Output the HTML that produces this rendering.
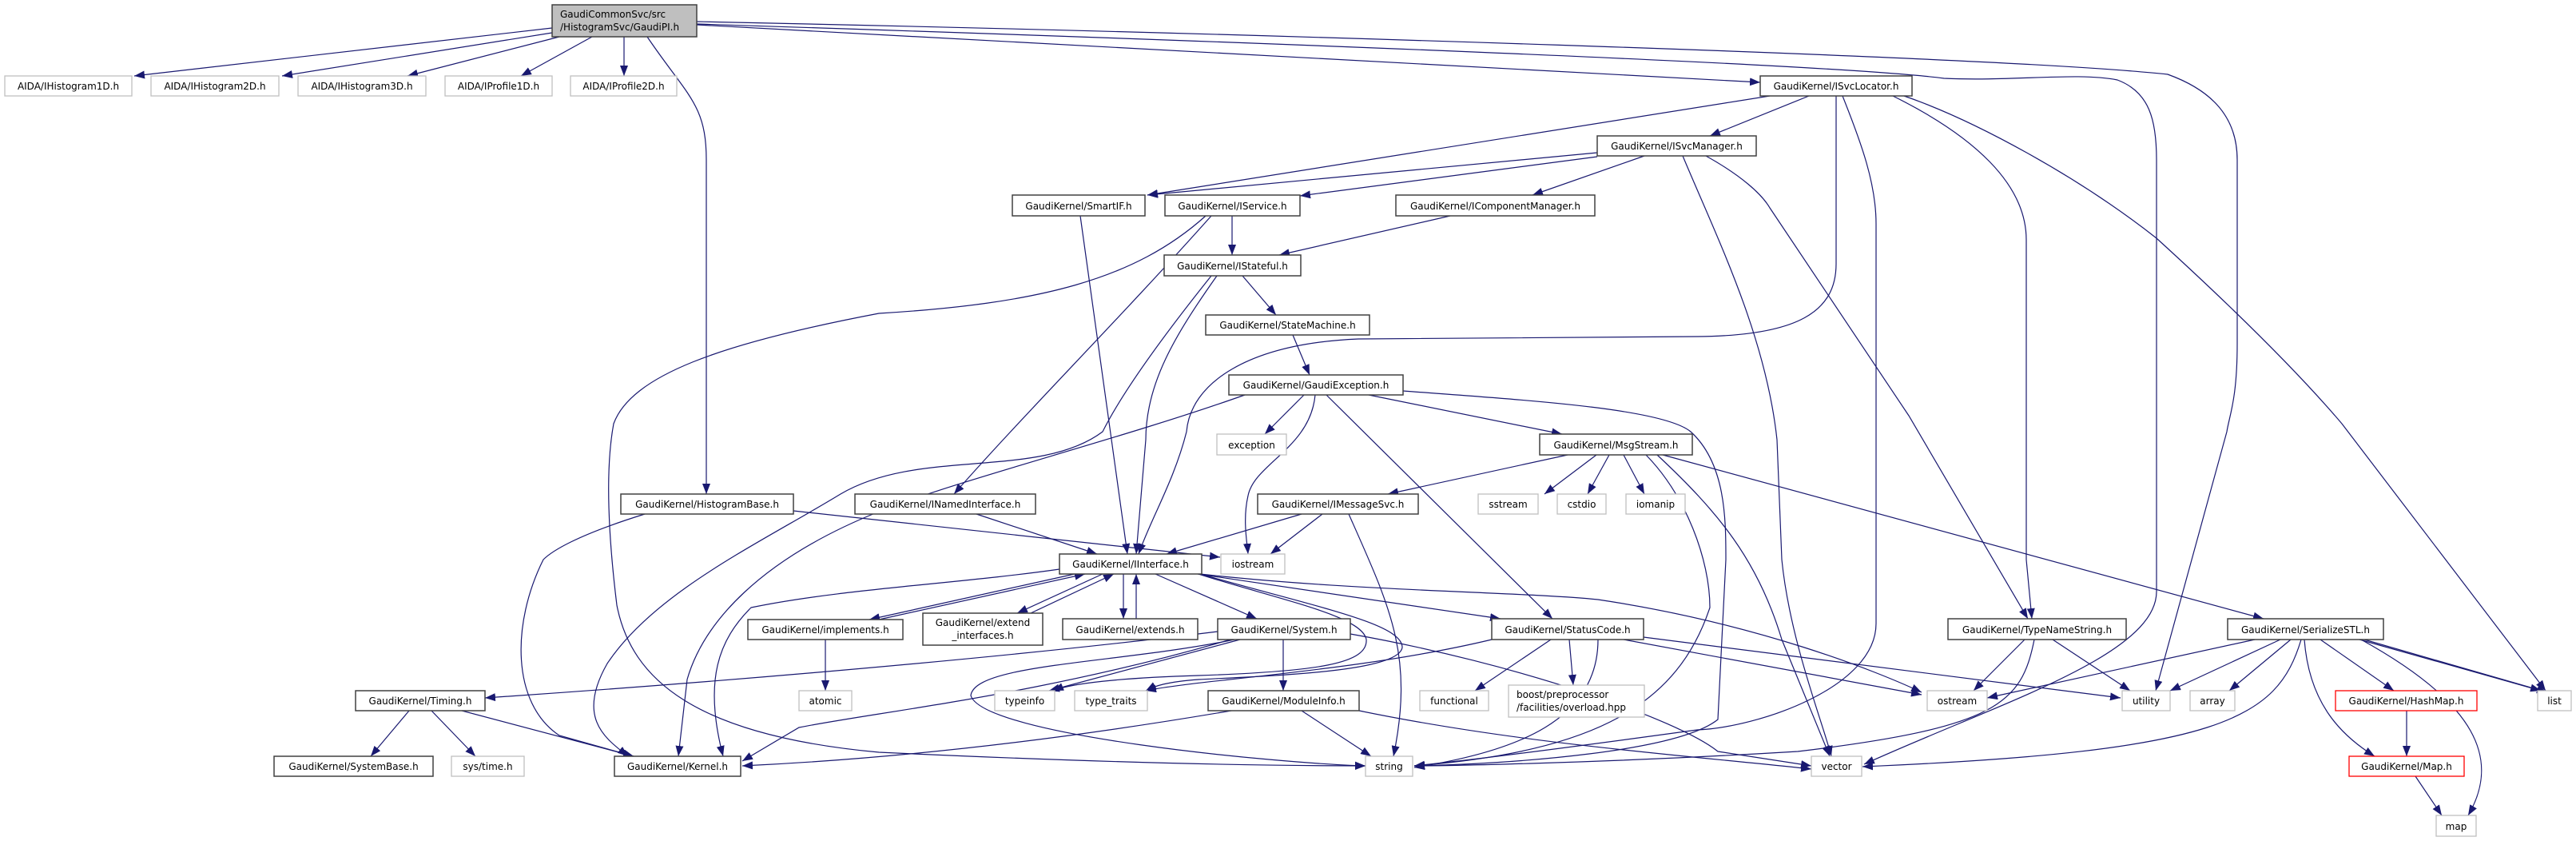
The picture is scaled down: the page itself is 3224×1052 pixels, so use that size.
<!DOCTYPE html>
<html><head><meta charset="utf-8"><style>
html,body{margin:0;padding:0;background:#fff;}
svg{display:block;}
text{font-family:"DejaVu Sans","Liberation Sans",sans-serif;font-size:12px;fill:#000;}
.b{fill:#fff;stroke:#404040;stroke-width:1.5;}
.g{fill:#fff;stroke:#bfbfbf;stroke-width:1.3;}
.r{fill:#fff;stroke:#ff0000;stroke-width:1.3;}
.e{fill:none;stroke:#191970;stroke-width:1.2;marker-end:url(#a);}
</style></head><body>
<svg width="3224" height="1052" viewBox="0 0 3224 1052" xmlns="http://www.w3.org/2000/svg">
<defs><marker id="a" markerUnits="userSpaceOnUse" markerWidth="14" markerHeight="11" refX="13" refY="5" orient="auto"><path d="M0,0 L13,5 L0,10 Z" fill="#191970"/></marker></defs>
<g>
<path class="e" d="M691,35 L168,95"/>
<path class="e" d="M691,41 L353,95"/>
<path class="e" d="M700,46 L510,95"/>
<path class="e" d="M741,46 L652,95"/>
<path class="e" d="M781,46 L781,95"/>
<path class="e" d="M810,46 C860,120 884,130 884,200 L884,618"/>
<path class="e" d="M872,31 L2203,103"/>
<path class="e" d="M872,27 C1500,40 2500,70 2713,93 C2760,110 2800,140 2800,200 L2800,430 C2800,500 2790,520 2787,540 L2698,864"/>
<path class="e" d="M872,30 C1500,50 2300,80 2433,98 C2520,102 2600,90 2650,100 C2690,115 2699,150 2699,200 L2699,740 C2699,820 2500,880 2333,956"/>
<path class="e" d="M2264,120 L2140,170"/>
<path class="e" d="M2215,120 L1436,244"/>
<path class="e" d="M2298,120 L2298,330 C2298,390 2250,420 2124,421 L1700,424 C1560,430 1490,480 1485,540 C1470,600 1440,650 1425,693"/>
<path class="e" d="M2306,120 C2330,180 2348,230 2348,280 L2348,780 C2348,860 2200,910 2124,913 C2000,930 1850,950 1770,958"/>
<path class="e" d="M2369,120 C2470,170 2536,230 2536,300 L2536,700 L2543,774"/>
<path class="e" d="M2383,120 C2470,150 2600,220 2699,298 C2800,390 2880,470 2931,530 L3186,864"/>
<path class="e" d="M1999,191 L1436,244"/>
<path class="e" d="M1999,196 L1627,245"/>
<path class="e" d="M2058,195 L1918,244"/>
<path class="e" d="M2106,195 C2150,300 2210,420 2224,550 L2230,700 C2240,800 2280,900 2292,946"/>
<path class="e" d="M2135,195 C2180,220 2205,243 2215,260 L2389,520 L2538,774"/>
<path class="e" d="M1352,270 L1411,693"/>
<path class="e" d="M1542,270 L1542,319"/>
<path class="e" d="M1516,270 C1400,400 1280,520 1194,618"/>
<path class="e" d="M1509,270 C1420,350 1300,380 1100,392 C900,430 790,470 768,530 C755,600 765,700 772,757 C790,850 870,920 1100,941 C1400,955 1600,958 1709,958"/>
<path class="e" d="M1815,270 L1601,319"/>
<path class="e" d="M1555,345 L1597,394"/>
<path class="e" d="M1523,345 C1470,420 1434,480 1434,550 L1422,693"/>
<path class="e" d="M1516,345 C1440,440 1400,500 1380,540 C1300,600 1150,560 1052,618 C950,680 820,740 760,830 C720,900 760,925 786,946"/>
<path class="e" d="M1618,419 L1639,469"/>
<path class="e" d="M1632,494 L1583,543"/>
<path class="e" d="M1646,494 C1640,560 1570,580 1562,620 C1555,650 1561,680 1562,693"/>
<path class="e" d="M1660,494 L1943,774"/>
<path class="e" d="M1713,494 L1955,543"/>
<path class="e" d="M1756,489 C1900,500 2080,510 2116,540 C2160,580 2160,650 2160,700 L2150,900 C2100,940 1900,955 1770,958"/>
<path class="e" d="M1558,494 C1400,550 1200,600 1100,640 C950,700 880,780 860,850 L849,946"/>
<path class="e" d="M1962,569 L1737,618"/>
<path class="e" d="M1998,569 L1933,618"/>
<path class="e" d="M2014,569 L1987,618"/>
<path class="e" d="M2032,569 L2058,618"/>
<path class="e" d="M2060,569 C2110,620 2140,700 2140,760 C2100,880 2000,940 1770,958"/>
<path class="e" d="M2074,569 C2150,640 2200,700 2230,800 L2290,946"/>
<path class="e" d="M2081,569 L2833,774"/>
<path class="e" d="M1629,643 L1460,693"/>
<path class="e" d="M1655,643 L1590,693"/>
<path class="e" d="M1688,643 C1740,760 1770,820 1744,946"/>
<path class="e" d="M1222,643 L1373,693"/>
<path class="e" d="M993,639 L1527,697"/>
<path class="e" d="M807,643 C720,670 690,690 680,700 C640,780 640,880 700,920 L793,946"/>
<path class="e" d="M1345,718 L1088,775"/>
<path class="e" d="M1100,775 L1358,718"/>
<path class="e" d="M1380,718 L1273,767"/>
<path class="e" d="M1290,767 L1394,718"/>
<path class="e" d="M1406,718 L1406,774"/>
<path class="e" d="M1422,774 L1422,718"/>
<path class="e" d="M1446,718 L1573,774"/>
<path class="e" d="M1499,718 L1878,774"/>
<path class="e" d="M1502,718 C1700,740 1900,740 2000,750 C2200,780 2350,840 2405,866"/>
<path class="e" d="M1500,718 C1600,750 1705,770 1710,800 C1712,830 1650,840 1500,845 C1400,848 1340,855 1318,864"/>
<path class="e" d="M1502,718 C1650,760 1755,780 1755,810 C1750,840 1600,845 1500,850 C1460,853 1445,858 1434,864"/>
<path class="e" d="M1326,712 C1200,730 1050,737 940,760 C900,800 880,850 905,946"/>
<path class="e" d="M1524,790 C1200,830 800,860 607,873"/>
<path class="e" d="M1552,800 L1313,864"/>
<path class="e" d="M1606,800 L1606,864"/>
<path class="e" d="M1540,800 C1300,870 1100,890 1000,910 L929,952"/>
<path class="e" d="M1545,800 C1400,830 1220,830 1215,870 C1230,920 1600,955 1709,958"/>
<path class="e" d="M1690,793 C1900,830 2100,900 2150,940 L2267,958"/>
<path class="e" d="M1941,800 L1846,864"/>
<path class="e" d="M1964,800 L1969,857"/>
<path class="e" d="M2032,800 L2405,869"/>
<path class="e" d="M2057,797 L2654,873"/>
<path class="e" d="M1867,800 C1700,840 1500,850 1434,864"/>
<path class="e" d="M2000,800 C2000,900 1900,940 1770,960"/>
<path class="e" d="M1629,889 L1716,946"/>
<path class="e" d="M1541,889 C1300,930 1100,950 929,958"/>
<path class="e" d="M1701,889 C1900,930 2100,944 2267,962"/>
<path class="e" d="M512,889 L464,946"/>
<path class="e" d="M540,889 L595,946"/>
<path class="e" d="M578,889 L793,946"/>
<path class="e" d="M1033,800 L1033,864"/>
<path class="e" d="M2534,800 L2470,864"/>
<path class="e" d="M2569,800 L2666,864"/>
<path class="e" d="M2546,800 C2530,880 2500,910 2250,940 C2000,955 1800,958 1770,958"/>
<path class="e" d="M2822,800 L2487,873"/>
<path class="e" d="M2854,800 L2716,864"/>
<path class="e" d="M2867,800 L2790,864"/>
<path class="e" d="M2880,800 C2850,900 2780,940 2331,959"/>
<path class="e" d="M2904,800 L2996,864"/>
<path class="e" d="M2884,800 C2890,880 2930,920 2972,946"/>
<path class="e" d="M2955,800 C3100,880 3130,950 3089,1020"/>
<path class="e" d="M2953,800 L3180,864"/>
<path class="e" d="M2959,800 L3188,866"/>
<path class="e" d="M3012,889 L3012,946"/>
<path class="e" d="M3023,971 L3056,1020"/>
</g>
<g>
<rect x="691" y="6" width="181" height="40" fill="#bfbfbf" stroke="#404040" stroke-width="1.5"/>
<text x="701" y="22">GaudiCommonSvc/src</text>
<text x="701" y="38">/HistogramSvc/GaudiPI.h</text>

<rect class="g" x="6" y="95" width="159" height="25"/><text x="85.5" y="112" text-anchor="middle">AIDA/IHistogram1D.h</text>
<rect class="g" x="189" y="95" width="160" height="25"/><text x="269" y="112" text-anchor="middle">AIDA/IHistogram2D.h</text>
<rect class="g" x="373" y="95" width="160" height="25"/><text x="453" y="112" text-anchor="middle">AIDA/IHistogram3D.h</text>
<rect class="g" x="557" y="95" width="134" height="25"/><text x="624" y="112" text-anchor="middle">AIDA/IProfile1D.h</text>
<rect class="g" x="714" y="95" width="133" height="25"/><text x="780.5" y="112" text-anchor="middle">AIDA/IProfile2D.h</text>

<rect class="b" x="2203" y="95" width="190" height="25"/><text x="2298" y="112" text-anchor="middle">GaudiKernel/ISvcLocator.h</text>
<rect class="b" x="1999" y="170" width="199" height="25"/><text x="2098.5" y="187" text-anchor="middle">GaudiKernel/ISvcManager.h</text>
<rect class="b" x="1267" y="244" width="166" height="26"/><text x="1350" y="262" text-anchor="middle">GaudiKernel/SmartIF.h</text>
<rect class="b" x="1458" y="244" width="169" height="26"/><text x="1542.5" y="262" text-anchor="middle">GaudiKernel/IService.h</text>
<rect class="b" x="1747" y="244" width="249" height="26"/><text x="1871.5" y="262" text-anchor="middle">GaudiKernel/IComponentManager.h</text>
<rect class="b" x="1457" y="319" width="171" height="26"/><text x="1542.5" y="337" text-anchor="middle">GaudiKernel/IStateful.h</text>
<rect class="b" x="1509" y="394" width="205" height="25"/><text x="1611.5" y="411" text-anchor="middle">GaudiKernel/StateMachine.h</text>
<rect class="b" x="1538" y="469" width="218" height="25"/><text x="1647" y="486" text-anchor="middle">GaudiKernel/GaudiException.h</text>
<rect class="g" x="1523" y="543" width="87" height="26"/><text x="1566.5" y="561" text-anchor="middle">exception</text>
<rect class="b" x="1927" y="543" width="191" height="26"/><text x="2022.5" y="561" text-anchor="middle">GaudiKernel/MsgStream.h</text>
<rect class="b" x="777" y="618" width="216" height="25"/><text x="885" y="635" text-anchor="middle">GaudiKernel/HistogramBase.h</text>
<rect class="b" x="1070" y="618" width="226" height="25"/><text x="1183" y="635" text-anchor="middle">GaudiKernel/INamedInterface.h</text>
<rect class="b" x="1574" y="618" width="201" height="25"/><text x="1674.5" y="635" text-anchor="middle">GaudiKernel/IMessageSvc.h</text>
<rect class="g" x="1850" y="618" width="75" height="25"/><text x="1887.5" y="635" text-anchor="middle">sstream</text>
<rect class="g" x="1949" y="618" width="61" height="25"/><text x="1979.5" y="635" text-anchor="middle">cstdio</text>
<rect class="g" x="2035" y="618" width="74" height="25"/><text x="2072" y="635" text-anchor="middle">iomanip</text>
<rect class="b" x="1326" y="693" width="178" height="25"/><text x="1415" y="710" text-anchor="middle">GaudiKernel/IInterface.h</text>
<rect class="g" x="1528" y="693" width="80" height="25"/><text x="1568" y="710" text-anchor="middle">iostream</text>
<rect class="b" x="936" y="775" width="194" height="25"/><text x="1033" y="792" text-anchor="middle">GaudiKernel/implements.h</text>
<rect class="b" x="1155" y="767" width="150" height="40"/><text x="1230" y="783" text-anchor="middle">GaudiKernel/extend</text><text x="1230" y="799" text-anchor="middle">_interfaces.h</text>
<rect class="b" x="1330" y="774" width="169" height="26"/><text x="1414.5" y="792" text-anchor="middle">GaudiKernel/extends.h</text>
<rect class="b" x="1524" y="774" width="166" height="26"/><text x="1607" y="792" text-anchor="middle">GaudiKernel/System.h</text>
<rect class="b" x="1867" y="774" width="190" height="26"/><text x="1962" y="792" text-anchor="middle">GaudiKernel/StatusCode.h</text>
<rect class="b" x="2438" y="774" width="223" height="26"/><text x="2549.5" y="792" text-anchor="middle">GaudiKernel/TypeNameString.h</text>
<rect class="b" x="2788" y="774" width="195" height="26"/><text x="2885.5" y="792" text-anchor="middle">GaudiKernel/SerializeSTL.h</text>
<rect class="b" x="445" y="864" width="162" height="25"/><text x="526" y="881" text-anchor="middle">GaudiKernel/Timing.h</text>
<rect class="g" x="1000" y="864" width="66" height="25"/><text x="1033" y="881" text-anchor="middle">atomic</text>
<rect class="g" x="1245" y="864" width="75" height="25"/><text x="1282.5" y="881" text-anchor="middle">typeinfo</text>
<rect class="g" x="1345" y="864" width="91" height="25"/><text x="1390.5" y="881" text-anchor="middle">type_traits</text>
<rect class="b" x="1512" y="864" width="189" height="25"/><text x="1606.5" y="881" text-anchor="middle">GaudiKernel/ModuleInfo.h</text>
<rect class="g" x="1777" y="864" width="86" height="25"/><text x="1820" y="881" text-anchor="middle">functional</text>
<rect class="g" x="1888" y="857" width="170" height="40"/><text x="1898" y="873">boost/preprocessor</text><text x="1898" y="889">/facilities/overload.hpp</text>
<rect class="g" x="2412" y="864" width="75" height="25"/><text x="2449.5" y="881" text-anchor="middle">ostream</text>
<rect class="g" x="2656" y="864" width="60" height="25"/><text x="2686" y="881" text-anchor="middle">utility</text>
<rect class="g" x="2741" y="864" width="56" height="25"/><text x="2769" y="881" text-anchor="middle">array</text>
<rect class="r" x="2923" y="864" width="177" height="25"/><text x="3011.5" y="881" text-anchor="middle">GaudiKernel/HashMap.h</text>
<rect class="g" x="3176" y="864" width="42" height="25"/><text x="3197" y="881" text-anchor="middle">list</text>
<rect class="b" x="343" y="946" width="199" height="25"/><text x="442.5" y="963" text-anchor="middle">GaudiKernel/SystemBase.h</text>
<rect class="g" x="565" y="946" width="91" height="25"/><text x="610.5" y="963" text-anchor="middle">sys/time.h</text>
<rect class="b" x="769" y="946" width="158" height="25"/><text x="848" y="963" text-anchor="middle">GaudiKernel/Kernel.h</text>
<rect class="g" x="1709" y="946" width="59" height="25"/><text x="1738.5" y="963" text-anchor="middle">string</text>
<rect class="g" x="2267" y="946" width="63" height="25"/><text x="2298.5" y="963" text-anchor="middle">vector</text>
<rect class="r" x="2940" y="946" width="144" height="25"/><text x="3012" y="963" text-anchor="middle">GaudiKernel/Map.h</text>
<rect class="g" x="3049" y="1020" width="50" height="26"/><text x="3074" y="1038" text-anchor="middle">map</text>
</g>
</svg>
</body></html>
